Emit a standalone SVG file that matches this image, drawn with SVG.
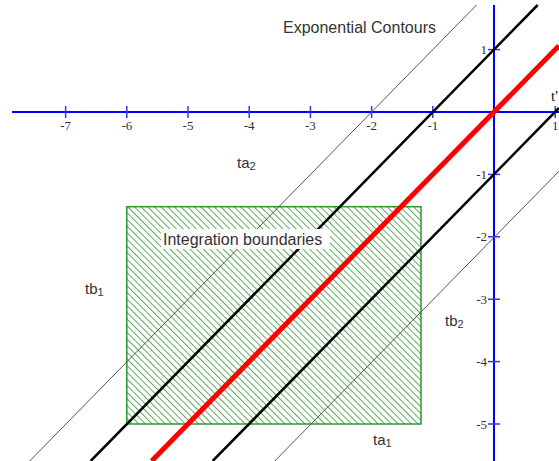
<svg xmlns="http://www.w3.org/2000/svg" width="559" height="461" viewBox="0 0 559 461">
<defs>
<pattern id="hatch" patternUnits="userSpaceOnUse" width="4.7" height="10" patternTransform="rotate(-45)">
<line x1="0.5" y1="0" x2="0.5" y2="10" stroke="#5fa95f" stroke-width="1"/>
</pattern>
<style>
.axis{stroke:#0000ff;stroke-width:2;fill:none}
.tick{stroke:#3333ff;stroke-width:1.5}
.tl{font-family:"Liberation Serif",serif;font-size:13px;fill:#333}
.lbl{font-family:"Liberation Sans",Arial,sans-serif;fill:#333}
.thin{stroke:#555;stroke-width:1;fill:none}
.thick{stroke:#000;stroke-width:2.5;fill:none}
.red{stroke:#ff0000;stroke-width:5;fill:none}
</style>
</defs>
<rect width="559" height="461" fill="#fff"/>
<g id="region">
<rect x="126.8" y="206.7" width="294.2" height="217.3" fill="url(#hatch)" stroke="#2f962f" stroke-width="1.5"/>
</g>
<g id="axes">
<line class="axis" x1="12" y1="112" x2="559" y2="112"/>
<line class="axis" x1="494" y1="5" x2="494" y2="461"/>
<g class="tick">
<line x1="65.6" y1="106" x2="65.6" y2="118"/>
<line x1="126.8" y1="106" x2="126.8" y2="118"/>
<line x1="188" y1="106" x2="188" y2="118"/>
<line x1="249.2" y1="106" x2="249.2" y2="118"/>
<line x1="310.4" y1="106" x2="310.4" y2="118"/>
<line x1="371.6" y1="106" x2="371.6" y2="118"/>
<line x1="432.8" y1="106" x2="432.8" y2="118"/>
<line x1="555.2" y1="106" x2="555.2" y2="118"/>
<line x1="488" y1="49.6" x2="500" y2="49.6"/>
<line x1="488" y1="174.4" x2="500" y2="174.4"/>
<line x1="488" y1="236.8" x2="500" y2="236.8"/>
<line x1="488" y1="299.2" x2="500" y2="299.2"/>
<line x1="488" y1="361.6" x2="500" y2="361.6"/>
<line x1="488" y1="424" x2="500" y2="424"/>
</g>
<g class="tl" text-anchor="middle">
<text x="65.6" y="130">-7</text>
<text x="126.8" y="130">-6</text>
<text x="188" y="130">-5</text>
<text x="249.2" y="130">-4</text>
<text x="310.4" y="130">-3</text>
<text x="371.6" y="130">-2</text>
<text x="432.8" y="130">-1</text>
<text x="555.2" y="130">1</text>
</g>
<g class="tl" text-anchor="end">
<text x="487" y="54">1</text>
<text x="487" y="179">-1</text>
<text x="487" y="241.3">-2</text>
<text x="487" y="303.7">-3</text>
<text x="487" y="366">-4</text>
<text x="487" y="428.5">-5</text>
</g>
<text x="551" y="101" font-family="Liberation Serif,serif" font-size="15" fill="#111">t'</text>
</g>
<g id="connectors">
<line class="thin" x1="476.5" y1="5" x2="29.7" y2="461"/>
<line class="thick" x1="537.7" y1="5" x2="90.7" y2="461"/>
<line class="red" x1="559" y1="45.7" x2="151.7" y2="461"/>
<line class="thick" x1="559" y1="108" x2="212.7" y2="461"/>
<line class="thin" x1="559" y1="171.2" x2="274.8" y2="461"/>
</g>
<g id="labels">
<g id="exp-contours"><text class="lbl" x="283" y="33" font-size="16">Exponential Contours</text></g>
<g id="integration-boundaries">
<rect x="161" y="229" width="169" height="20" fill="#fff"/>
<text class="lbl" x="163" y="245" font-size="16">Integration boundaries</text>
</g>
<g id="ta2"><text class="lbl" x="237" y="168" font-size="15">ta<tspan font-size="11" dy="2">2</tspan></text></g>
<g id="tb1"><text class="lbl" x="85" y="294" font-size="15">tb<tspan font-size="11" dy="2">1</tspan></text></g>
<g id="tb2"><text class="lbl" x="445" y="326" font-size="15">tb<tspan font-size="11" dy="2">2</tspan></text></g>
<g id="ta1"><text class="lbl" x="373" y="445" font-size="15">ta<tspan font-size="11" dy="2">1</tspan></text></g>
</g>
</svg>
